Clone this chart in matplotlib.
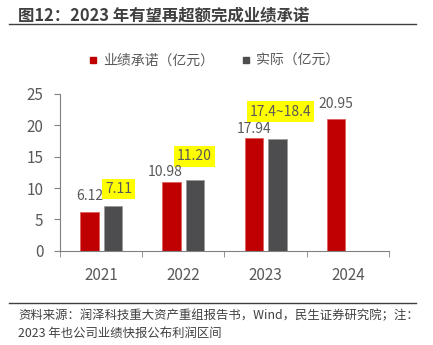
import numpy as np
import matplotlib
matplotlib.use('Agg')
from matplotlib import pyplot as plt
from matplotlib.lines import Line2D

plt.rcParams['font.family'] = ['Noto Sans CJK SC', 'DejaVu Sans']

years = ['2021', '2022', '2023', '2024']
promised = [6.12, 10.98, 17.94, 20.95]
actual = [7.11, 11.20, 17.9, np.nan]
promised_labels = ['6.12', '10.98', '17.94', '20.95']
actual_labels = ['7.11', '11.20', '17.4~18.4', '']
series_names = ['业绩承诺（亿元）', '实际（亿元）']

title = '图12：2023 年有望再超额完成业绩承诺'
source = ('资料来源：润泽科技重大资产重组报告书，Wind，民生证券研究院；注：\n'
          '2023 年也公司业绩快报公布利润区间')

RED = '#C00000'
GREY = '#4D4D4F'
TXT = '#595959'
AX = '#808080'

# label offsets in pixels from bar top (dx, dy)
red_off = [(0, 16), (-6, 10), (0, 9), (0, 15)]
grey_off = [(6, 17), (-1, 24), (3, 27), (0, 0)]

W, H = 433, 345
fig = plt.figure(figsize=(W / 100, H / 100), dpi=100)
ax = fig.add_axes([60 / W, 1 - 250.7 / H, (389 - 60) / W, (250.7 - 94) / H])

x = np.arange(len(years))
bw = 0.227
off = 0.143
b1 = ax.bar(x - off, promised, bw, color=RED, edgecolor='#E06060', linewidth=0.6)
b2 = ax.bar(x + off, actual, bw, color=GREY, edgecolor='#9a9a9a', linewidth=0.6)

for i, v in enumerate(actual):
    if np.isnan(v) or not actual_labels[i]:
        continue
    ax.annotate(actual_labels[i], (x[i] + off, v), xytext=grey_off[i],
                textcoords='offset pixels', ha='center', va='center',
                fontsize=10, color=TXT, zorder=1,
                bbox=dict(boxstyle='square,pad=0.22', fc='#FFFF00', ec='none'))
for i, v in enumerate(promised):
    ax.annotate(promised_labels[i], (x[i] - off, v), xytext=red_off[i],
                textcoords='offset pixels', ha='center', va='center',
                fontsize=10, color=TXT)

ax.set_xlim(-0.5, 3.5)
ax.set_ylim(0, 25)
ax.set_yticks(range(0, 26, 5))
ax.set_xticks(x)
ax.set_xticklabels(years)
ax.set_xticks(np.arange(-0.5, 4, 1), minor=True)
ax.tick_params(axis='x', which='major', length=0, pad=12, labelsize=11, labelcolor=TXT)
ax.tick_params(axis='x', which='minor', length=4, color=AX, direction='out')
ax.tick_params(axis='y', length=4, color=AX, pad=8, labelsize=11, labelcolor=TXT)
for s in ['top', 'right']:
    ax.spines[s].set_visible(False)
for s in ['left', 'bottom']:
    ax.spines[s].set_color(AX)
    ax.spines[s].set_linewidth(0.8)

handles = [Line2D([], [], marker='s', ls='', color=RED, markersize=5),
           Line2D([], [], marker='s', ls='', color=GREY, markersize=5)]
fig.legend(handles, series_names, loc='center left', bbox_to_anchor=(89 / W, 1 - 61 / H),
           ncol=2, frameon=False, fontsize=10, labelcolor=TXT, handlelength=0.6,
           handletextpad=0.4, columnspacing=2.0, borderaxespad=0, borderpad=0)

fig.text(18 / W, 1 - 15 / H, title, fontsize=11.8, fontweight='bold', color='#404040',
         va='center', ha='left')
fig.add_artist(Line2D([9 / W, 416 / W], [1 - 24 / H, 1 - 24 / H], color='#404040', lw=1))
fig.add_artist(Line2D([9 / W, 416 / W], [1 - 303 / H, 1 - 303 / H], color='#404040', lw=1))
fig.text(18 / W, 1 - 325 / H, source, fontsize=8.9, color='#404040', va='center', ha='left',
         linespacing=1.45)

fig.savefig('out.png', dpi=100)
